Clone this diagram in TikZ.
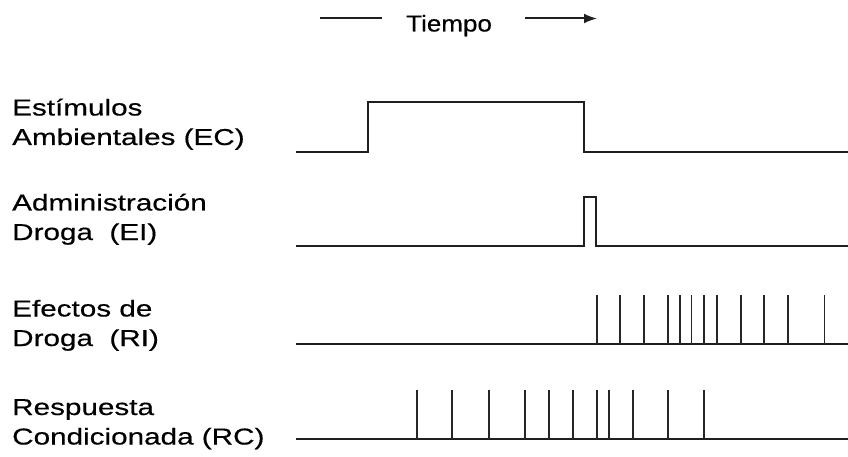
\documentclass[tikz,border=0pt]{standalone}
\usepackage{fontspec}
\setmainfont{Liberation Sans}
\newfontfamily\lblfont{Liberation Sans}[FakeStretch=1.29,FakeBold=0.4]
\newfontfamily\ttlfont{Liberation Sans}[FakeStretch=1.13,FakeBold=0.4]
\usetikzlibrary{arrows.meta}
\begin{document}
\begin{tikzpicture}[x=1pt,y=-1pt,
  trace/.style={line width=2pt, draw=black!88, line join=miter},
  spike/.style={line width=1.8pt, draw=black!85},
  lbl/.style={font=\lblfont\fontsize{23}{29.5}\selectfont, align=left,
              anchor=base west, inner sep=0pt},
  ttl/.style={font=\ttlfont\fontsize{23}{28}\selectfont,
              anchor=base west, inner sep=0pt},
]
\useasboundingbox (0,0) rectangle (848,457);

% time axis heading
\node[ttl] (tiempo) at (406,31.5) {Tiempo};
\coordinate (tA) at (320,18.5);
\coordinate (tB) at (382,18.5);
\coordinate (tC) at (525,18.5);
\coordinate (tD) at (597,18.5);
\draw[trace] (tA) -- (tB);
\draw[trace, -{Latex[length=13pt,width=10pt]}] (tC) -- (tD);

% row labels (anchored on the baseline of the second line)
\node[lbl] (ec) at (12,145)   {Estímulos\\Ambientales (EC)};
\node[lbl] (ei) at (12,240)   {Administración\\Droga~ (EI)};
\node[lbl] (ri) at (12,346)   {Efectos de\\Droga~ (RI)};
\node[lbl] (rc) at (12,444.5) {Respuesta\\Condicionada (RC)};

% EC: environmental stimulus step
\draw[trace] (296,152.5) -- (368,152.5) -- (368,102.5) -- (583.5,102.5)
             -- (583.5,152.5) -- (848,152.5);

% EI: brief drug pulse
\draw[trace] (296,245.5) -- (583.5,245.5) -- (583.5,197.5) -- (596,197.5)
             -- (596,245.5) -- (848,245.5);

% RI: drug effects
\draw[trace] (296,344) -- (848,344);
\foreach \x in {597,620,644,668,680.3,691.5,704.2,717,740.8,764.3,788.2,824.5}
  \draw[spike] (\x,344) -- (\x,295);

% RC: conditioned response
\draw[trace] (296,439) -- (848,439);
\foreach \x in {417.3,452.3,488.7,525.3,549,572.7,596.7,609.3,633,667.7,704.3}
  \draw[spike] (\x,439) -- (\x,389.5);
\end{tikzpicture}
\end{document}
